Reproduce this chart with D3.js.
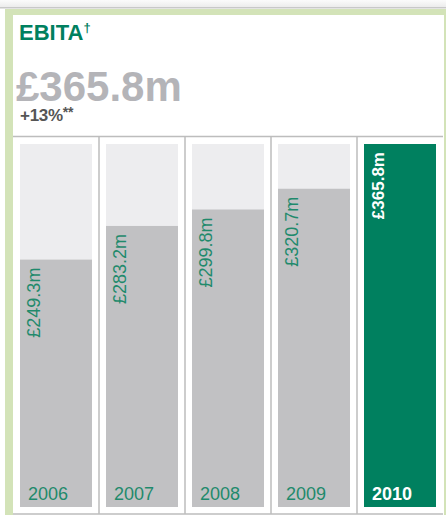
<!DOCTYPE html>
<html>
<head>
<meta charset="utf-8">
<script src="https://cdn.jsdelivr.net/npm/d3@7"></script>
<style>
	body { margin: 0; background: #fff; }
	svg { display: block; font-family: "Liberation Sans", Arial, sans-serif; }
</style>
</head>
<body>
<svg id="ebita-chart" width="446" height="515"></svg>
<script>
var years = ['2006', '2007', '2008', '2009', '2010'];
var values = [249.3, 283.2, 299.8, 320.7, 365.8];
var labels = ['£249.3m', '£283.2m', '£299.8m', '£320.7m', '£365.8m'];
var scaleMax = 365.8;

var teal = '#00805f';
var barGrey = '#c1c1c3';
var backGrey = '#ededef';
var lineGrey = '#bdbdbd';

var svg = d3.select('#ebita-chart');

// top shadow + frame
var defs = svg.append('defs');
var grad = defs.append('linearGradient')
	.attr('id', 'topfade')
	.attr('x1', 0).attr('y1', 0).attr('x2', 0).attr('y2', 1);
grad.append('stop').attr('offset', '0%').attr('stop-color', '#fbfbfb');
grad.append('stop').attr('offset', '100%').attr('stop-color', '#ececec');

svg.append('rect').attr('x', 0).attr('y', 0).attr('width', 446).attr('height', 7).attr('fill', 'url(#topfade)');
svg.append('rect').attr('x', 0).attr('y', 7).attr('width', 446).attr('height', 1.5).attr('fill', '#c8c8c8');
svg.append('rect').attr('x', 5).attr('y', 9).attr('width', 441).attr('height', 506).attr('fill', '#d3e3b8');
svg.append('rect').attr('x', 13).attr('y', 15).attr('width', 431).attr('height', 500).attr('fill', '#fff');

// header
var title = svg.append('text')
	.attr('x', 19).attr('y', 40)
	.attr('fill', teal)
	.style('font-weight', 'bold')
	.style('font-size', '22px')
	.text('EBITA');
title.append('tspan').attr('dy', -8).style('font-size', '13px').text('†');

svg.append('text')
	.attr('x', 16).attr('y', 101)
	.attr('fill', '#b4b4b8')
	.style('font-weight', 'bold')
	.style('font-size', '42px')
	.text('£365.8m');

var growth = svg.append('text')
	.attr('x', 20).attr('y', 121)
	.attr('fill', '#555')
	.style('font-weight', 'bold')
	.style('font-size', '17px')
	.style('letter-spacing', '-0.3px')
	.text('+13%');
growth.append('tspan').attr('dy', -4).style('font-size', '14px').text('**');

// bars
var x = d3.scaleBand().domain(years).range([13, 443]);
var y = d3.scaleLinear().domain([0, scaleMax]).range([507, 144]);
var pad = 7;

var data = years.map((d, i) => ({ year: d, value: values[i], label: labels[i], last: i === years.length - 1 }));

svg.append('line')
	.attr('x1', 13).attr('x2', 443).attr('y1', 136.5).attr('y2', 136.5)
	.attr('stroke', lineGrey).attr('stroke-width', 1.5);
svg.append('line')
	.attr('x1', 13).attr('x2', 443).attr('y1', 514).attr('y2', 514)
	.attr('stroke', lineGrey).attr('stroke-width', 1.5);

svg.selectAll('line.sep')
	.data(years.slice(1))
	.enter()
	.append('line')
		.attr('class', 'sep')
		.attr('x1', d => x(d)).attr('x2', d => x(d))
		.attr('y1', 136).attr('y2', 514)
		.attr('stroke', lineGrey).attr('stroke-width', 1.5);

var cols = svg.selectAll('g.col')
	.data(data)
	.enter()
	.append('g')
		.attr('class', 'col');

cols.append('rect')
	.attr('x', d => x(d.year) + pad)
	.attr('width', x.bandwidth() - pad * 2)
	.attr('y', y(scaleMax))
	.attr('height', y(0) - y(scaleMax))
	.attr('fill', backGrey);

cols.append('rect')
	.attr('x', d => x(d.year) + pad)
	.attr('width', x.bandwidth() - pad * 2)
	.attr('y', d => y(d.value))
	.attr('height', d => y(0) - y(d.value))
	.attr('fill', d => d.last ? teal : barGrey);

cols.append('text')
	.attr('transform', d => 'translate(' + (x(d.year) + pad + 20) + ',' + (y(d.value) + 8) + ') rotate(-90)')
	.attr('text-anchor', 'end')
	.attr('fill', d => d.last ? '#fff' : '#1f8a6c')
	.style('font-weight', d => d.last ? 'bold' : 'normal')
	.style('font-size', d => d.last ? '17px' : '18px')
	.text(d => d.label);

cols.append('text')
	.attr('x', d => x(d.year) + pad + 8)
	.attr('y', 500)
	.attr('fill', d => d.last ? '#fff' : '#1f8a6c')
	.style('font-weight', d => d.last ? 'bold' : 'normal')
	.style('font-size', '18px')
	.text(d => d.year);
</script>
</body>
</html>
